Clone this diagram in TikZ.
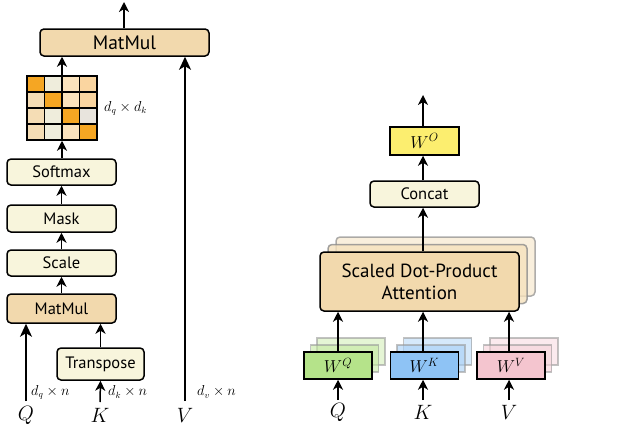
\documentclass[tikz,border=0pt]{standalone}
\usepackage{fontspec}
\setmainfont{PT Sans}
\usetikzlibrary{arrows.meta}
\definecolor{tanc}{HTML}{F2D9AD}
\definecolor{creamc}{HTML}{F8F5DC}
\definecolor{yelc}{HTML}{FCEE6F}
\definecolor{greenc}{HTML}{B5E38A}
\definecolor{bluec}{HTML}{8EC3F5}
\definecolor{pinkc}{HTML}{F4C5CF}
\definecolor{ca}{HTML}{F5A623}
\definecolor{cb}{HTML}{EFEDDC}
\definecolor{cc}{HTML}{FBE3BD}
\definecolor{cd}{HTML}{FAD5A0}
\definecolor{ce}{HTML}{F5DDB5}
\definecolor{cf}{HTML}{E8E4DD}
\begin{document}
\begin{tikzpicture}[x=1pt,y=-1pt,
  box/.style={draw, line width=1.5pt, rounded corners=4pt, inner sep=0pt, align=center},
  opbox/.style={box, fill=creamc, minimum width=109pt, minimum height=26pt, font=\fontsize{16.5}{19}\selectfont},
  mmbox/.style={box, fill=tanc},
  wbox/.style={draw, line width=1.5pt, inner sep=0pt, minimum width=68pt, minimum height=27pt, font=\fontsize{18}{20}\selectfont},
  ghost/.style={draw=black!40, line width=1.5pt, inner sep=0pt, minimum width=68pt, minimum height=27pt, opacity=0.6},
  arr/.style={-{Stealth[length=10pt,width=10pt,inset=3pt]}, line width=1.5pt},
  bigarr/.style={-{Stealth[length=13pt,width=12pt,inset=3.5pt]}, line width=1.5pt},
  inlab/.style={inner sep=0pt, font=\fontsize{22}{26}\selectfont},
  dimlab/.style={inner sep=0pt, anchor=west, font=\fontsize{13.5}{15}\selectfont}]
\useasboundingbox (0,0) rectangle (623,439);

% ---------- left: scaled dot-product attention ----------
\node[mmbox, minimum width=169pt, minimum height=27pt, font=\fontsize{19.5}{22}\selectfont] (mm2) at (124.5,42.5) {MatMul};
\coordinate (out1) at (124,2);
\draw[arr] (mm2.north -| out1) -- (out1);

% matrix
\foreach \r/\cols in {0/{ca,cb,cc,cd},1/{ce,ca,cc,cd},2/{ce,cb,ca,cf},3/{ce,cb,cc,ca}}{
  \foreach \c [count=\i from 0] in \cols {
    \fill[\c] (27+17.5*\i,76+16*\r) rectangle ++(17.5,16);
  }
}
\node[draw, line width=1.5pt, inner sep=0pt, minimum width=70pt, minimum height=64pt] (mat) at (62,108) {};
\draw[line width=1.1pt] (44.5,76) -- (44.5,140) (62,76) -- (62,140) (79.5,76) -- (79.5,140)
  (27,92) -- (97,92) (27,108) -- (97,108) (27,124) -- (97,124);
\node[dimlab] (dqdk) at (104,108) {$d_q\times d_k$};

\node[opbox] (soft) at (61.5,172) {Softmax};
\node[opbox, minimum height=27pt] (mask) at (61.5,218.5) {Mask};
\node[opbox] (scale) at (61.5,263) {Scale};
\node[mmbox, minimum width=109pt, minimum height=29pt, font=\fontsize{16.5}{19}\selectfont] (mm1) at (61.5,308.5) {MatMul};
\node[box, fill=creamc, minimum width=87pt, minimum height=32pt, font=\fontsize{16.5}{19}\selectfont] (trans) at (100.5,364) {Transpose};

\node[inlab] (Q) at (26,415) {$Q$};
\node[inlab] (K) at (100,415) {$K$};
\node[inlab] (V) at (185,415) {$V$};
\coordinate (qs) at (26,401);
\coordinate (ks) at (100,402);
\coordinate (vs) at (185,401);

\draw[arr] (mat.north -| 62,0) -- (mm2.south -| 62,0);
\draw[arr] (soft.north -| 62,0) -- (mat.south -| 62,0);
\draw[arr] (mask) -- (soft);
\draw[arr] (scale) -- (mask);
\draw[arr] (mm1) -- (scale);
\draw[arr] (trans.north) -- (mm1.south -| trans.north);
\draw[bigarr] (qs) -- (mm1.south -| qs);
\draw[arr] (ks) -- (trans.south);
\draw[bigarr] (vs) -- (mm2.south -| vs);

\node[dimlab] (dqn) at (31,392) {$d_q\times n$};
\node[dimlab] (dkn) at (108,392) {$d_k\times n$};
\node[dimlab] (dvn) at (197,392) {$d_v\times n$};

% ---------- right: multi-head attention ----------
\node[wbox, fill=yelc, minimum width=69pt, minimum height=28pt] (wo) at (424.5,141) {$W^O$};
\coordinate (out2) at (423,95);
\draw[arr] (wo.north -| out2) -- (out2);
\node[opbox] (concat) at (424.5,194) {Concat};
\draw[arr] (concat.north -| out2) -- (wo.south -| out2);

\node[box, draw=black!45, fill=tanc!60, opacity=0.7, minimum width=199pt, minimum height=59pt] (sb2) at (435.5,266.5) {};
\node[box, draw=black!45, fill=tanc!80, opacity=0.8, minimum width=199pt, minimum height=59pt] (sb1) at (427.5,274) {};
\node[box, fill=tanc, minimum width=199pt, minimum height=59pt, font=\fontsize{19}{22}\selectfont] (sdpa) at (419.5,281.5) {Scaled Dot-Product\\Attention};
\draw[arr] (sdpa.north -| out2) -- (concat.south -| out2);

\foreach \n/\x/\col/\sup in {wq/338/greenc/Q, wk/424.5/bluec/K, wv/511/pinkc/V}{
  \node[ghost, fill=\col!60] (\n2) at (\x+13,351.5) {};
  \node[ghost, fill=\col!80] (\n1) at (\x+6.5,358.5) {};
  \node[wbox, fill=\col] (\n) at (\x,365.5) {$W^{\sup}$};
}
\node[inlab] (Q2) at (338,412) {$Q$};
\node[inlab] (K2) at (423,412) {$K$};
\node[inlab] (V2) at (509,412) {$V$};
\coordinate (q2s) at (338,400);
\coordinate (k2s) at (423,400);
\coordinate (v2s) at (509,400);
\draw[arr] (q2s) -- (wq.south -| q2s);
\draw[arr] (k2s) -- (wk.south -| k2s);
\draw[arr] (v2s) -- (wv.south -| v2s);
\draw[arr] (wq.north -| q2s) -- (sdpa.south -| q2s);
\draw[arr] (wk.north -| k2s) -- (sdpa.south -| k2s);
\draw[arr] (wv.north -| v2s) -- (sdpa.south -| v2s);
\end{tikzpicture}
\end{document}
